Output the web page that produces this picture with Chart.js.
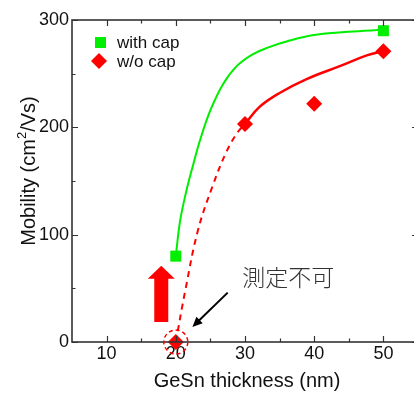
<!DOCTYPE html>
<html>
<head>
<meta charset="utf-8">
<script src="https://cdn.jsdelivr.net/npm/chart.js@4.4.1/dist/chart.umd.min.js"></script>
<style>
html, body { margin: 0; padding: 0; background: #fff; overflow: hidden; width: 414px; height: 394px; }
#clip { width: 414px; height: 394px; overflow: hidden; position: relative; }
#wrap { position: absolute; left: 0; top: 0; width: 420px; height: 394px; }
</style>
</head>
<body>
<div id="clip"><div id="wrap"><canvas id="chart"></canvas></div></div>
<script>
// Measured points
const thickness = [20, 30, 40, 50];
const withCap = [80, null, null, 290];
const withoutCap = [0, 203, 222, 271];

// Fit curves
const fitWithCapX = [20, 20.6, 21.5, 22.5, 23.6, 25, 26.8, 28.8, 31.1, 33.6, 36, 40, 45, 50];
const fitWithCapY = [80, 112, 140, 165, 190, 216, 240, 257, 268, 275, 280, 286, 289, 291];
const fitSolidX = [30, 32.1, 35, 38.9, 43.7, 47.6, 50];
const fitSolidY = [203, 219, 232, 245, 257, 267, 271];
const fitDashX = [20, 21.4, 23.2, 25.3, 27.3, 28.9, 30];
const fitDashY = [0, 49, 104, 145, 177, 195, 203];

// Axis ticks
const xTicks = [10, 20, 30, 40, 50];
const xMinor = [15, 25, 35, 45];
const yTicks = [0, 100, 200, 300];
const yMinor = [50, 150, 250];

const seriesNames = ['with cap', 'w/o cap'];
const noteText = '測定不可';

const colors = {
    green: '#00ee00',
    red: '#ff0000',
    axis: '#333333',
    text: '#111111'
};
const FONT = '"Liberation Sans", Arial, sans-serif';

function toPoints(xs, ys) {
    const pts = [];
    xs.forEach((x, i) => {
        if (ys[i] !== null) pts.push({ x: x, y: ys[i] });
    });
    return pts;
}

// Frame, inward ticks, titles, legend and notes
const decorPlugin = {
    id: 'decor',
    afterDatasetsDraw(chart) {
        const ctx = chart.ctx;
        const a = chart.chartArea;
        const xs = chart.scales.x;
        const ys = chart.scales.y;
        ctx.save();

        // frame
        ctx.strokeStyle = colors.axis;
        ctx.lineWidth = 1.6;
        ctx.strokeRect(a.left, a.top, a.right - a.left, a.bottom - a.top);

        // ticks on all four sides, pointing in
        ctx.lineWidth = 1.2;
        function xTick(v, len) {
            const px = Math.round(xs.getPixelForValue(v)) + 0.5;
            ctx.beginPath();
            ctx.moveTo(px, a.bottom); ctx.lineTo(px, a.bottom - len);
            ctx.moveTo(px, a.top); ctx.lineTo(px, a.top + len);
            ctx.stroke();
        }
        function yTick(v, len) {
            const py = Math.round(ys.getPixelForValue(v)) + 0.5;
            ctx.beginPath();
            ctx.moveTo(a.left, py); ctx.lineTo(a.left + len, py);
            ctx.moveTo(a.right, py); ctx.lineTo(a.right - len, py);
            ctx.stroke();
        }
        xTicks.forEach(v => xTick(v, 6));
        xMinor.forEach(v => xTick(v, 3.5));
        yTicks.forEach(v => yTick(v, 6));
        yMinor.forEach(v => yTick(v, 3.5));

        // x title
        ctx.fillStyle = colors.text;
        ctx.font = '20px ' + FONT;
        ctx.textAlign = 'center';
        ctx.textBaseline = 'middle';
        ctx.fillText('GeSn thickness (nm)', 247, 381);

        // y title with superscript
        ctx.save();
        ctx.translate(29, 171);
        ctx.rotate(-Math.PI / 2);
        const parts = [
            { t: 'Mobility (cm', f: '20px ' + FONT, dy: 0 },
            { t: '2', f: '13px ' + FONT, dy: -7 },
            { t: '/Vs)', f: '20px ' + FONT, dy: 0 }
        ];
        let total = 0;
        parts.forEach(p => { ctx.font = p.f; total += ctx.measureText(p.t).width; });
        let cx = -total / 2;
        ctx.textAlign = 'left';
        parts.forEach(p => {
            ctx.font = p.f;
            ctx.fillText(p.t, cx, p.dy);
            cx += ctx.measureText(p.t).width;
        });
        ctx.restore();

        // legend
        ctx.font = '17px ' + FONT;
        ctx.textAlign = 'left';
        ctx.textBaseline = 'middle';
        ctx.fillStyle = colors.green;
        ctx.fillRect(a.left + 23, 37, 11, 11);
        ctx.fillStyle = colors.red;
        ctx.beginPath();
        ctx.moveTo(a.left + 27, 53); ctx.lineTo(a.left + 35, 61);
        ctx.lineTo(a.left + 27, 69); ctx.lineTo(a.left + 19, 61);
        ctx.closePath(); ctx.fill();
        ctx.fillStyle = colors.text;
        ctx.fillText(seriesNames[0], a.left + 45, 43);
        ctx.fillText(seriesNames[1], a.left + 45, 62);

        // dashed circle round the unmeasurable point
        const cxp = xs.getPixelForValue(20);
        const cyp = ys.getPixelForValue(0);
        ctx.strokeStyle = colors.red;
        ctx.lineWidth = 1.5;
        ctx.setLineDash([4, 3]);
        ctx.beginPath();
        ctx.arc(cxp, cyp, 12, 0, Math.PI * 2);
        ctx.stroke();
        ctx.setLineDash([]);

        // red block arrow
        const ax = xs.getPixelForValue(17.9);
        const aBot = ys.getPixelForValue(18.7);
        const aBase = ys.getPixelForValue(59);
        const aTip = ys.getPixelForValue(71);
        ctx.fillStyle = colors.red;
        ctx.beginPath();
        ctx.moveTo(ax - 7, aBot);
        ctx.lineTo(ax - 7, aBase);
        ctx.lineTo(ax - 13.5, aBase);
        ctx.lineTo(ax, aTip);
        ctx.lineTo(ax + 13.5, aBase);
        ctx.lineTo(ax + 7, aBase);
        ctx.lineTo(ax + 7, aBot);
        ctx.closePath();
        ctx.fill();

        // black pointer arrow
        const x1 = xs.getPixelForValue(27.5), y1 = ys.getPixelForValue(46);
        const x2 = xs.getPixelForValue(22.4), y2 = ys.getPixelForValue(14);
        const ang = Math.atan2(y2 - y1, x2 - x1);
        ctx.strokeStyle = '#000';
        ctx.lineWidth = 2;
        ctx.beginPath();
        ctx.moveTo(x1, y1);
        ctx.lineTo(x2 - 6 * Math.cos(ang), y2 - 6 * Math.sin(ang));
        ctx.stroke();
        ctx.fillStyle = '#000';
        ctx.beginPath();
        ctx.moveTo(x2, y2);
        ctx.lineTo(x2 - 10 * Math.cos(ang) + 4.5 * Math.sin(ang), y2 - 10 * Math.sin(ang) - 4.5 * Math.cos(ang));
        ctx.lineTo(x2 - 10 * Math.cos(ang) - 4.5 * Math.sin(ang), y2 - 10 * Math.sin(ang) + 4.5 * Math.cos(ang));
        ctx.closePath();
        ctx.fill();

        // note
        ctx.fillStyle = '#333';
        ctx.font = '300 23px "Noto Sans CJK JP", sans-serif';
        ctx.textAlign = 'left';
        ctx.textBaseline = 'middle';
        ctx.fillText(noteText, xs.getPixelForValue(29.6), ys.getPixelForValue(60));

        ctx.restore();
    }
};

const ctx = document.getElementById('chart');
new Chart(ctx, {
    type: 'scatter',
    data: {
        datasets: [
            {
                label: seriesNames[0],
                data: toPoints(thickness, withCap),
                backgroundColor: colors.green,
                borderColor: colors.green,
                pointStyle: 'rect',
                pointRadius: 7.8,
                pointHoverRadius: 7.8,
                borderWidth: 0,
                clip: false,
                order: 0
            },
            {
                label: seriesNames[1],
                data: toPoints(thickness, withoutCap),
                backgroundColor: colors.red,
                borderColor: colors.red,
                pointStyle: 'rectRot',
                pointRadius: 8,
                pointHoverRadius: 8,
                borderWidth: 0,
                clip: false,
                order: 0
            },
            {
                label: 'fit with cap',
                data: toPoints(fitWithCapX, fitWithCapY),
                showLine: true,
                borderColor: colors.green,
                borderWidth: 2,
                pointRadius: 0,
                tension: 0.4,
                order: 1
            },
            {
                label: 'fit w/o cap',
                data: toPoints(fitSolidX, fitSolidY),
                showLine: true,
                borderColor: colors.red,
                borderWidth: 2.5,
                pointRadius: 0,
                tension: 0.4,
                order: 1
            },
            {
                label: 'fit w/o cap (extrapolated)',
                data: toPoints(fitDashX, fitDashY),
                showLine: true,
                borderColor: colors.red,
                borderWidth: 2,
                borderDash: [6, 5],
                pointRadius: 0,
                tension: 0.4,
                order: 1
            }
        ]
    },
    options: {
        responsive: true,
        maintainAspectRatio: false,
        animation: false,
        // canvas is 6px wider than the picture; the right frame sits just off the edge
        layout: { autoPadding: false, padding: { top: 20, right: 2, left: 0, bottom: 0 } },
        plugins: {
            legend: { display: false },
            tooltip: { enabled: false }
        },
        scales: {
            x: {
                type: 'linear',
                min: 5,
                max: 55,
                grid: { display: false, drawTicks: false },
                border: { display: false },
                afterBuildTicks: s => { s.ticks = xTicks.map(v => ({ value: v })); },
                afterFit: s => {
                    s.height = 52;
                    s.paddingLeft = 0;
                    s.paddingRight = 0;
                },
                ticks: {
                    color: colors.text,
                    padding: 1,
                    maxRotation: 0,
                    font: { family: FONT, size: 18 }
                }
            },
            y: {
                type: 'linear',
                min: 0,
                max: 300,
                grid: { display: false, drawTicks: false },
                border: { display: false },
                afterBuildTicks: s => { s.ticks = yTicks.map(v => ({ value: v })); },
                afterFit: s => {
                    s.width = 72;
                    s.paddingTop = 0;
                    s.paddingBottom = 0;
                },
                ticks: {
                    color: colors.text,
                    padding: 3,
                    font: { family: FONT, size: 18 }
                }
            }
        }
    },
    plugins: [decorPlugin]
});
</script>
</body>
</html>
